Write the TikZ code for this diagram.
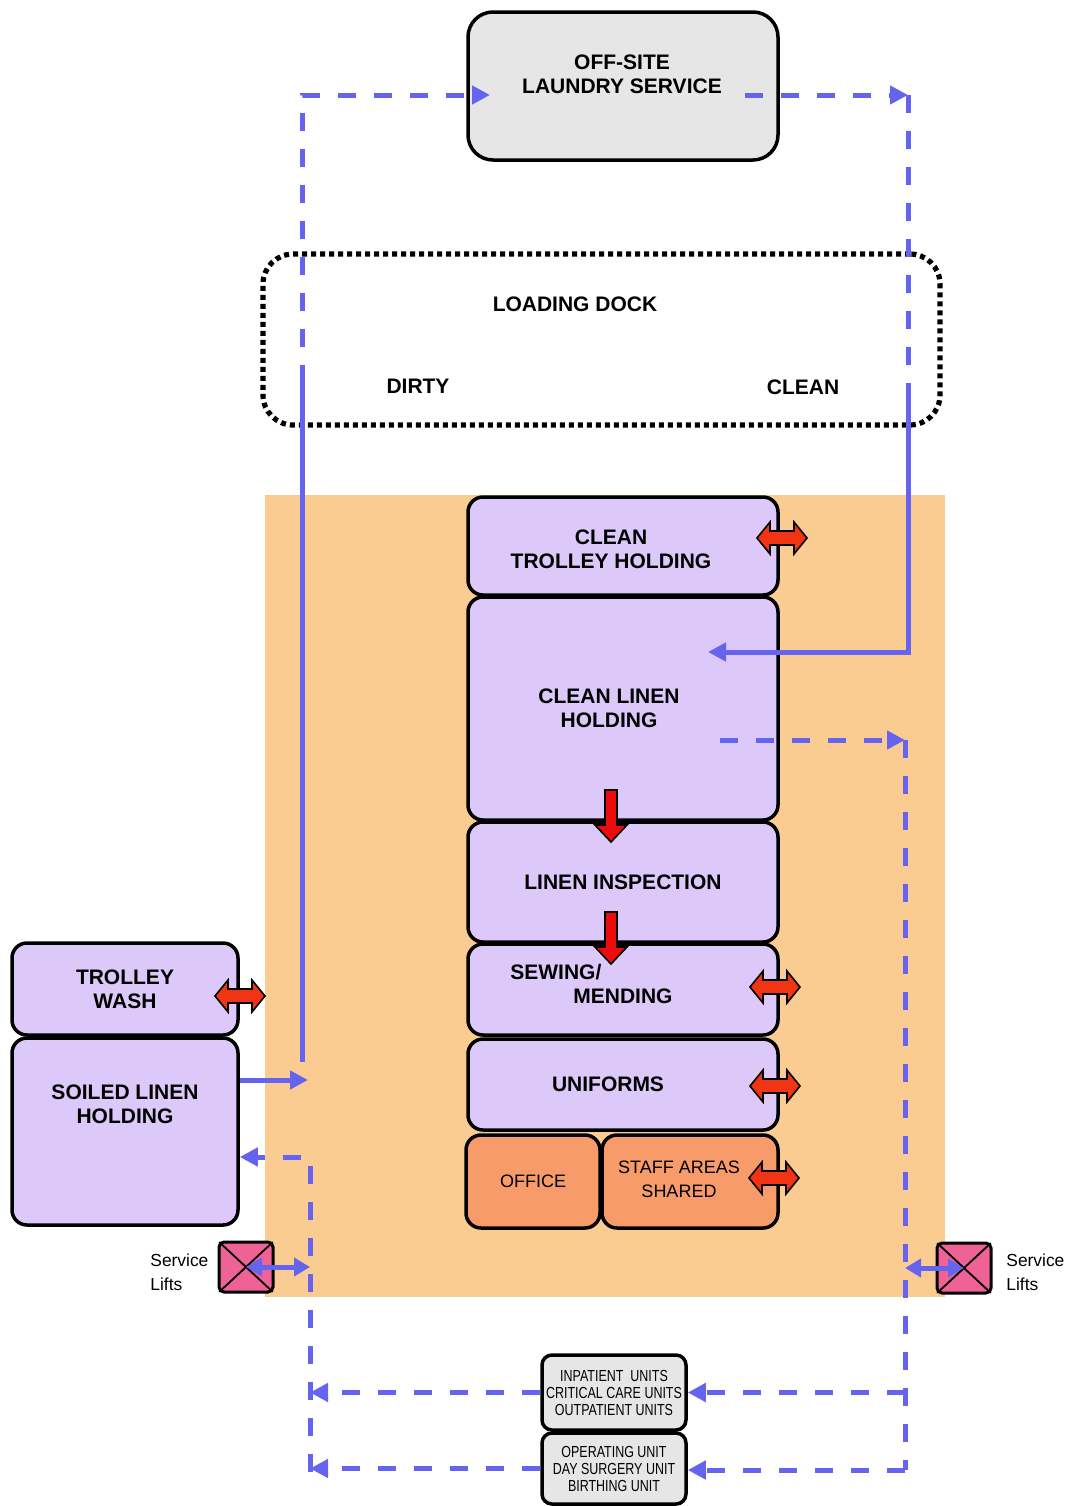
\documentclass[tikz,border=0pt]{standalone}
\usepackage{fontspec}
\setmainfont{Liberation Sans}
\newfontfamily\narrowfont[FakeStretch=0.78]{Liberation Sans}
\usetikzlibrary{positioning,arrows.meta}
\definecolor{lav}{RGB}{221,201,249}
\definecolor{peach}{RGB}{251,204,145}
\definecolor{salmon}{RGB}{247,155,106}
\definecolor{offgrey}{RGB}{230,230,230}
\definecolor{flowblue}{RGB}{100,100,238}
\definecolor{liftpink}{RGB}{238,98,150}
\definecolor{redarr}{RGB}{240,52,20}
\definecolor{reddown}{RGB}{236,12,12}
\tikzset{
  two way/.pic={\filldraw[fill=redarr, draw=black, line width=0.8pt] (-25,0) -- (-12,-16) -- (-12,-7) -- (12,-7) -- (12,-16) -- (25,0) -- (12,16) -- (12,7) -- (-12,7) -- (-12,16) -- cycle;},
  down way/.pic={\filldraw[fill=reddown, draw=black, line width=0.8pt] (-6,-26) -- (6,-26) -- (6,9) -- (16,9) -- (0,26) -- (-16,9) -- (-6,9) -- cycle;}
}
\begin{document}
\begin{tikzpicture}[x=0.5pt,y=-0.5pt,
    room/.style={draw, line width=1.75pt, rounded corners=7.5pt, fill=lav, inner sep=0pt, font=\bfseries\fontsize{10.5}{12}\selectfont, align=center},
    unit/.style={draw, line width=1.75pt, rounded corners=5pt, fill=offgrey, inner sep=0pt, font=\narrowfont\fontsize{8}{8.5}\selectfont, align=center, minimum width=72pt},
    roomtxt/.style={font=\bfseries\fontsize{10.5}{12}\selectfont, align=center, inner sep=0pt},
    lift/.style={draw, line width=1.5pt, rounded corners=2.5pt, fill=liftpink, minimum width=27pt, minimum height=25pt, inner sep=0pt},
    lifttxt/.style={font=\fontsize{8.7}{12}\selectfont, align=left, anchor=west, inner sep=0pt},
    flow/.style={draw=flowblue, line width=2.5pt},
    flowd/.style={flow, dash pattern=on 9pt off 9pt},
    tip/.style={-{Triangle[length=9pt,width=9pt]}},
    both tips/.style={{Triangle[length=8pt,width=9pt]}-{Triangle[length=8pt,width=9pt]}}]
    \useasboundingbox (0,0) rectangle (1073,1506);

    % linen department area
    \fill[peach] (265,495) rectangle (945,1297);

    % off-site and dock
    \node[room, fill=offgrey, rounded corners=12.5pt, minimum width=155pt, minimum height=74pt] (offsite) at (623,86) {};
    \node[roomtxt] (offsite txt) at (622,74) {OFF-SITE\\LAUNDRY SERVICE};
    \node[draw, line width=2.6pt, dash pattern=on 2.5pt off 2pt, rounded corners=15pt, minimum width=338.5pt, minimum height=85.5pt] (dock) at (601.5,339.5) {};
    \node[roomtxt] (dock txt) at (575,304) {LOADING DOCK};
    \node[roomtxt] (dirty txt) at (418,386) {DIRTY};
    \node[roomtxt] (clean txt) at (803,387) {CLEAN};

    % rooms
    \node[room, minimum width=155pt, minimum height=49pt] (cth) at (623,546) {};
    \node[roomtxt] (cth txt) at (611,549) {CLEAN\\TROLLEY HOLDING};
    \node[room, minimum width=155pt, minimum height=111.5pt] (clh) at (623,708.5) {};
    \node[roomtxt] (clh txt) at (609,708) {CLEAN LINEN\\HOLDING};
    \node[room, minimum width=155pt, minimum height=60pt] (insp) at (623,882) {LINEN INSPECTION};
    \node[room, minimum width=155pt, minimum height=45.5pt] (sew) at (623,989.5) {};
    \node[roomtxt, anchor=west, align=left] (sew txt) at (510,984) {SEWING/\\\hspace*{31.5pt}MENDING};
    \node[room, minimum width=155pt, minimum height=45.5pt] (unif) at (623,1084.5) {};
    \node[roomtxt] (unif txt) at (608,1084) {UNIFORMS};
    \node[room, fill=salmon, font=\fontsize{9}{12}\selectfont, minimum width=67pt, minimum height=46.5pt] (office) at (533,1181.5) {OFFICE};
    \node[room, fill=salmon, minimum width=88pt, minimum height=46.5pt] (staff) at (690,1181.5) {};
    \node[roomtxt, font=\fontsize{9}{12}\selectfont] (staff txt) at (679,1179) {STAFF AREAS\\SHARED};
    \node[room, minimum width=113pt, minimum height=46pt] (twash) at (125,989) {TROLLEY\\WASH};
    \node[room, minimum width=113pt, minimum height=93.5pt] (soiled) at (125,1131.5) {};
    \node[roomtxt] (soiled txt) at (125,1104) {SOILED LINEN\\HOLDING};

    % units served
    \node[unit, minimum height=37.5pt] (inpat) at (614,1392.5) {INPATIENT\ \ UNITS\\CRITICAL CARE UNITS\\OUTPATIENT UNITS};
    \node[unit, minimum height=35.5pt] (oper) at (614,1468.5) {OPERATING UNIT\\DAY SURGERY UNIT\\BIRTHING UNIT};

    % service lifts
    \node[lift] (liftL) at (246,1267) {};
    \draw[line width=0.9pt, shorten <=1.2pt, shorten >=1.2pt] (liftL.north west) -- (liftL.south east);
    \draw[line width=0.9pt, shorten <=1.2pt, shorten >=1.2pt] (liftL.north east) -- (liftL.south west);
    \node[lift] (liftR) at (964,1268) {};
    \draw[line width=0.9pt, shorten <=1.2pt, shorten >=1.2pt] (liftR.north west) -- (liftR.south east);
    \draw[line width=0.9pt, shorten <=1.2pt, shorten >=1.2pt] (liftR.north east) -- (liftR.south west);
    \node[lifttxt] (liftL txt) at (150,1272) {Service\\Lifts};
    \node[lifttxt] (liftR txt) at (1006,1272) {Service\\Lifts};

    % dirty flow
    \coordinate (dirty low) at (302,1062);
    \coordinate (dirty dock) at (302,383);
    \coordinate (dirty top) at (302,95);
    \coordinate (laundry in) at (490,95);
    \coordinate (dirty in) at (308,1080);
    \draw[flow, tip] (soiled.east |- dirty in) -- (dirty in);
    \draw[flow] (dirty low) -- (dirty dock);
    \draw[flowd, tip] (dirty dock) -- (dirty top) -- (laundry in);

    % clean flow
    \coordinate (laundry out) at (745,95);
    \coordinate (clean top) at (908,95);
    \coordinate (clean dock) at (908,383);
    \coordinate (clean turn) at (908,652);
    \coordinate (clean in) at (708,652);
    \draw[flowd, tip] (laundry out) -- (clean top);
    \draw[flowd] (clean top) -- (clean dock);
    \draw[flow, tip] (clean dock) -- (clean turn) -- (clean in);

    % distribution
    \coordinate (dist start) at (720,740);
    \coordinate (dist turn) at (905,740);
    \coordinate (dist end) at (905,1470);
    \draw[flowd, tip] (dist start) -- (dist turn);
    \draw[flowd] (dist turn) -- (dist end);
    \draw[flowd, tip] (dist end |- inpat.east) -- (inpat.east);
    \draw[flowd, tip] (dist end) -- (oper.east |- dist end);

    % return
    \coordinate (ret top) at (310,1157);
    \coordinate (ret bot) at (310,1472);
    \draw[flowd, tip] (inpat.west) -- (ret top |- inpat.west);
    \draw[flowd, tip] (oper.west) -- (ret bot |- oper.west);
    \draw[flowd, tip] (ret bot) -- (ret top) -- (soiled.east |- ret top);

    % lift access
    \draw[flow, both tips] (liftL.center) -- (ret top |- liftL.center);
    \draw[flow, both tips] (dist end |- liftR.center) -- (liftR.center);

    % red arrows
    \pic (cth arr) at (782,538) {two way};
    \pic (twash arr) at (240,996) {two way};
    \pic (sew arr) at (775,987) {two way};
    \pic (unif arr) at (775,1086) {two way};
    \pic (staff arr) at (774,1178) {two way};
    \pic (clh arr) at (611,816) {down way};
    \pic (insp arr) at (611,938) {down way};
\end{tikzpicture}
\end{document}
